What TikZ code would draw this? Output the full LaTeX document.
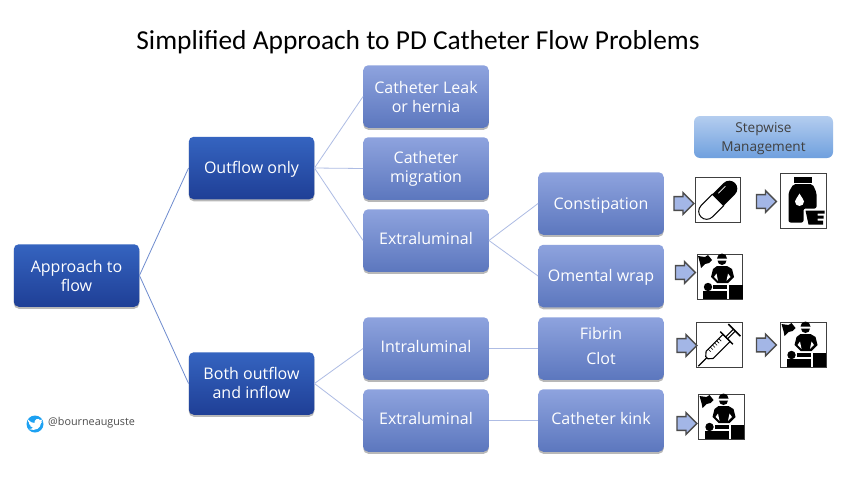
\documentclass[tikz,border=0pt]{standalone}
\usepackage{fontspec}
\setmainfont{Open Sans}
\newfontfamily\titlefont{Carlito}
\usetikzlibrary{shadows,shapes.arrows}
\definecolor{linkc}{HTML}{6F8CCF}
\definecolor{linkl}{HTML}{AEBCE4}
\definecolor{darktop}{HTML}{3564C0}
\definecolor{darkbot}{HTML}{1F3F96}
\definecolor{lighttop}{HTML}{8EA3DE}
\definecolor{lightbot}{HTML}{5C77BE}
\definecolor{steptop}{HTML}{B4CDEF}
\definecolor{stepbot}{HTML}{6FA0DE}
\definecolor{arrowfill}{HTML}{A3B6E6}
\definecolor{tw}{HTML}{1DA1F2}
\newcommand\nudge[2]{\raisebox{#1pt}[0.7em][0.2em]{#2}}
\tikzset{
  basebox/.style={rounded corners=5pt,minimum width=125.5pt,minimum height=62.5pt,align=center,
    text=white,font=\fontsize{16}{19}\selectfont,inner sep=0pt,
    drop shadow={shadow xshift=0pt,shadow yshift=-2pt,opacity=0.28,fill=black}},
  darkbox/.style={basebox,top color=darktop,bottom color=darkbot},
  lightbox/.style={basebox,top color=lighttop,bottom color=lightbot},
  stepbox/.style={rounded corners=6pt,minimum width=139pt,minimum height=42pt,align=center,inner sep=0pt,
    top color=steptop,bottom color=stepbot,text=black!75,font=\fontsize{13.6}{19}\selectfont},
  link/.style={draw=linkc,line width=0.8pt},
  linklight/.style={draw=linkl,line width=0.8pt},
  blockarrow/.style={single arrow,draw=black!70,line width=1.4pt,fill=arrowfill,minimum height=20pt,
    minimum width=22pt,single arrow head extend=4pt,single arrow tip angle=90,inner xsep=0pt,inner ysep=6pt},
  iconframe/.style={draw=black!75,line width=0.8pt,fill=white,inner sep=0pt,minimum width=45.5pt,minimum height=44.5pt},
  pics/surgeon/.style={code={
    \fill[black] (-22,-21) -- (-15,-20) -- (-12,-22) -- (-8,-17) -- (-11,-14) -- (-15,-13) -- (-19,-9) -- (-20,-14) -- cycle;
    \fill[black] (-3,-18.5) arc[start angle=180,end angle=360,radius=5] -- cycle;
    \fill[black] (-2.5,-16.5) arc[start angle=180,end angle=0,radius=4.5] -- cycle;
    \fill[black] (-3,-11) -- (7,-11) -- (12,-8) -- (14,0) -- (8,6) -- (-3,6) -- (-9,0) -- (-7,-8) -- cycle;
    \fill[white] (-6,0) -- (-3.5,-3.5) -- (-2,3.8) -- cycle;
    \fill[white] (10.5,0) -- (8,-3.5) -- (6.5,3.8) -- cycle;
    \fill[black] (-12,10) circle (4.2);
    \fill[black] (-7,7.5) rectangle (7,12);
    \fill[black] (-17,14) rectangle (7,22);
    \fill[black] (9,8) rectangle (22.7,22);
  }},
  pics/pill/.style={code={
    \begin{scope}[rotate=45]
      \fill[black] (0,-8) -- (16,-8) arc[start angle=-90,end angle=90,radius=8] -- (0,8) -- cycle;
      \draw[black,line width=1pt,fill=white] (0,-8) -- (-16,-8) arc[start angle=270,end angle=90,radius=8] -- (0,8) -- cycle;
      \draw[white,line width=0.8pt] (5,-4.5) -- (15,-4.5);
    \end{scope}
  }},
  pics/bottle/.style={code={
    \fill[black] (-10,-24) rectangle (8,-18);
    \fill[black,rounded corners=2pt] (-10,-16.5) -- (9,-16.5) -- (13,-8) -- (13,8) -- (0,8) -- (0,22) -- (-15,22) -- (-15,-8) -- cycle;
    \fill[white] (-4,-7) .. controls (-6,-3) and (-8.5,-1) .. (-8.5,1) arc[start angle=180,end angle=0,radius=4.5] .. controls (0.5,-1) and (-2,-3) .. (-4,-7) -- cycle;
    \fill[black] (2,10) -- (21,10) -- (21,13) -- (14,13) -- (14,15) -- (20,15) -- (20,18) -- (14,18) -- (14,20) -- (19.5,20) -- (19.5,24) -- (5,24) -- cycle;
  }},
  pics/syringe/.style={code={
    \begin{scope}[rotate=45]
      \draw[black,line width=1.1pt] (-30,0) -- (-18,0);
      \draw[black,line width=1.1pt] (-18,-1.5) -- (-14,-5) -- (10,-5) -- (10,5) -- (-14,5) -- (-18,1.5) -- cycle;
      \draw[black,line width=1.3pt] (10,-9) -- (10,9);
      \draw[black,line width=1.1pt] (10,-1.3) -- (21,-1.3) (10,1.3) -- (21,1.3);
      \draw[black,line width=1.6pt] (21,-8.5) -- (21,8.5);
      \foreach \k in {-11,-8,-5,-2,1,4} \draw[black,line width=0.6pt] (\k,-5) -- (\k,-1.5);
    \end{scope}
  }}
}
\begin{document}
\begin{tikzpicture}[x=1pt,y=-1pt]
\useasboundingbox (0,0) rectangle (850,482);
\fill[white] (0,0) rectangle (850,482);
\node[font=\titlefont\fontsize{27.4}{30}\selectfont,text=black] (title) at (418,42) {Simplified Approach to PD Catheter Flow Problems};
% boxes
\node[darkbox] (root) at (76.5,275.5) {Approach to\\flow};
\node[darkbox] (out) at (251.5,168) {\nudge{-1}{Outflow only}};
\node[darkbox] (both) at (251.5,383.5) {Both outflow\\and inflow\rule[-2pt]{0pt}{2pt}};
\node[lightbox] (leak) at (426,96.5) {Catheter Leak\\or hernia};
\node[lightbox] (migr) at (426,168.5) {Catheter\\migration};
\node[lightbox] (ext1) at (426,240.5) {\nudge{0}{Extraluminal}};
\node[lightbox] (intra) at (426,348.5) {\nudge{0}{Intraluminal}};
\node[lightbox] (ext2) at (426,420.5) {\nudge{0}{Extraluminal}};
\node[lightbox] (const) at (601,203.5) {\nudge{-2}{Constipation}};
\node[lightbox] (oment) at (601,276) {\nudge{-1}{Omental wrap}};
\node[lightbox,font=\fontsize{16}{25}\selectfont] (fibrin) at (601,348.5) {Fibrin\\Clot\rule[-6pt]{0pt}{6pt}};
\node[lightbox] (kink) at (601,420.5) {\nudge{0}{Catheter kink}};
\node[stepbox] (step) at (763.5,137) {\rule{0pt}{14pt}Stepwise\\Management};
% links
\draw[link] (root.east) -- (out.west);
\draw[link] (root.east) -- (both.west);
\draw[linklight] (out.east) -- (leak.west);
\draw[linklight] (out.east) -- (migr.west);
\draw[linklight] (out.east) -- (ext1.west);
\draw[linklight] (both.east) -- (intra.west);
\draw[linklight] (both.east) -- (ext2.west);
\draw[linklight] (ext1.east) -- (const.west);
\draw[linklight] (ext1.east) -- (oment.west);
\draw[linklight] (intra.east) -- (fibrin.west);
\draw[linklight] (ext2.east) -- (kink.west);
% icons
\node[iconframe] (pill) at (718,200) {};
\pic at (pill.center) {pill};
\node[iconframe,minimum height=55pt] (bottle) at (803.5,200.5) {};
\pic at (bottle.center) {bottle};
\node[iconframe] (s1) at (720,277) {};
\pic at (s1.center) {surgeon};
\node[iconframe] (syr) at (719.5,345) {};
\pic at (syr.center) {syringe};
\node[iconframe] (s2) at (803.5,345) {};
\pic at (s2.center) {surgeon};
\node[iconframe] (s3) at (721.5,417) {};
\pic at (s3.center) {surgeon};
% block arrows
\node[blockarrow] (a1) at (680.5,203.5) {};
\node[blockarrow] (a2) at (763,201.5) {};
\node[blockarrow] (a3) at (682,272.5) {};
\node[blockarrow] (a4) at (683.5,345.5) {};
\node[blockarrow] (a5) at (763,345) {};
\node[blockarrow] (a6) at (683.5,423.5) {};
% twitter
\node[circle,fill=tw,minimum size=17pt,inner sep=0pt] (tw) at (35,424) {};
\fill[white] (28,419.5) .. controls (30,422) and (32,423) .. (34.5,423) .. controls (34,419.5) and (38,417.5) .. (40,420) -- (42.5,419.5) -- (41,421.5) -- (42.5,421.5) -- (41,423) .. controls (40.5,428) and (36,431.5) .. (29,429) .. controls (31,429) and (32.5,428.5) .. (33,427.5) .. controls (31,427) and (30,426) .. (30,425.5) -- (31,425.5) .. controls (29.5,425) and (28.5,423.5) .. (29,422.5) .. controls (28,421.5) and (27.5,420.5) .. (28,419.5) -- cycle;
\node[font=\fontsize{10.8}{12}\selectfont,text=black!70,anchor=west,inner sep=0pt] (handle) at (48,423) {@bourneauguste};
\end{tikzpicture}
\end{document}
